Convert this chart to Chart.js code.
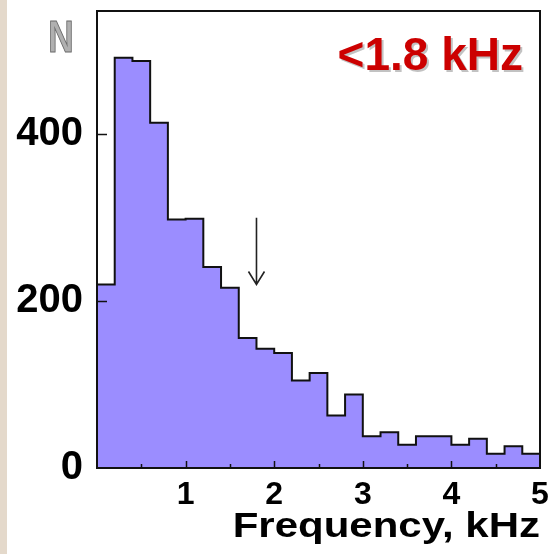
<!DOCTYPE html>
<html>
<head>
<meta charset="utf-8">
<script src="https://cdn.jsdelivr.net/npm/chart.js@4.4.1/dist/chart.umd.min.js"></script>
<style>
  html, body { margin: 0; padding: 0; background: #ffffff; }
  #wrap { width: 550px; height: 554px; position: relative; }
</style>
</head>
<body>
<div id="wrap"><canvas id="c" width="550" height="554"></canvas></div>
<script>
// ---- data ----
const binStart = 0.0;          // kHz
const binWidth = 0.2;          // kHz
const counts = [220, 492, 488, 414, 298, 299, 241, 216, 156, 143,
                138, 105, 114, 63, 88, 38, 43, 28, 38, 38,
                28, 35, 17, 26, 17];
const xTickLabels = ["1", "2", "3", "4", "5"];
const yTickValues = [0, 200, 400];
const arrowX = 1.8;            // kHz
const arrowTop = 300;          // N
const arrowTip = 220;          // N
const annotation = "<1.8 kHz";
const yLabel = "N";
const xTitle = "Frequency, kHz";

// bin edges -> stepped outline points
const stepPoints = counts.map((v, i) => ({ x: +(binStart + i * binWidth).toFixed(2), y: v }));
stepPoints.push({ x: +(binStart + counts.length * binWidth).toFixed(2), y: counts[counts.length - 1] });

const decor = {
  id: 'decor',
  beforeDraw(chart) {
    const ctx = chart.ctx;
    ctx.save();
    ctx.fillStyle = '#ffffff';
    ctx.fillRect(0, 0, chart.width, chart.height);
    ctx.fillStyle = '#e4d9cb';
    ctx.fillRect(0, 0, 7, chart.height);
    ctx.restore();
  },
  afterDatasetsDraw(chart) {
    const ctx = chart.ctx;
    const a = chart.chartArea;
    const xs = chart.scales.x, ys = chart.scales.y;
    ctx.save();
    // frame
    ctx.strokeStyle = '#111';
    ctx.lineWidth = 2;
    ctx.strokeRect(a.left, a.top, a.right - a.left, a.bottom - a.top);
    // x ticks (inward)
    ctx.lineWidth = 1.5;
    ctx.beginPath();
    for (let v = 0.5; v < 5; v += 0.5) {
      const px = Math.round(xs.getPixelForValue(v)) + 0.5;
      const len = (Math.abs(v - Math.round(v)) < 1e-6) ? 7 : 4;
      ctx.moveTo(px, a.bottom);
      ctx.lineTo(px, a.bottom - len);
    }
    // y ticks (inward)
    yTickValues.forEach(v => {
      if (v === 0) return;
      const py = Math.round(ys.getPixelForValue(v)) + 0.5;
      ctx.moveTo(a.left, py);
      ctx.lineTo(a.left + 10, py);
    });
    ctx.stroke();
    // arrow
    const ax = xs.getPixelForValue(arrowX);
    const ay0 = ys.getPixelForValue(arrowTop);
    const ay1 = ys.getPixelForValue(arrowTip);
    ctx.strokeStyle = '#222';
    ctx.lineWidth = 1.6;
    ctx.beginPath();
    ctx.moveTo(ax, ay0);
    ctx.lineTo(ax, ay1);
    ctx.moveTo(ax - 8, ay1 - 13);
    ctx.lineTo(ax, ay1);
    ctx.lineTo(ax + 8, ay1 - 13);
    ctx.stroke();
    // "N" label
    ctx.save();
    ctx.translate(61, 52);
    ctx.scale(0.8, 1);
    ctx.font = 'bold 44px "Liberation Sans", sans-serif';
    ctx.textAlign = 'center';
    ctx.textBaseline = 'alphabetic';
    ctx.fillStyle = '#b0b0b0';
    ctx.fillText(yLabel, 0, 0);
    ctx.strokeStyle = '#6a6a6a';
    ctx.lineWidth = 1;
    ctx.strokeText(yLabel, 0, 0);
    ctx.restore();
    // annotation
    ctx.font = 'bold 46px "Liberation Sans", Arial, sans-serif';
    ctx.textAlign = 'right';
    ctx.textBaseline = 'alphabetic';
    ctx.fillStyle = 'rgba(120,120,120,0.45)';
    ctx.fillText(annotation, 525, 72);
    ctx.fillStyle = '#cc0000';
    ctx.fillText(annotation, 523, 70);
    // x-axis title (horizontally stretched like the reference)
    ctx.save();
    ctx.translate(540, 537);
    ctx.scale(1.2, 1);
    ctx.font = 'bold 35px "Liberation Sans", Arial, sans-serif';
    ctx.textAlign = 'right';
    ctx.fillStyle = '#000';
    ctx.fillText(xTitle, 0, 0);
    ctx.restore();
    ctx.restore();
  }
};

new Chart(document.getElementById('c'), {
  type: 'line',
  data: {
    datasets: [{
      data: stepPoints,
      stepped: true,
      fill: 'origin',
      backgroundColor: '#9b8dff',
      borderColor: '#111',
      borderWidth: 2,
      pointRadius: 0,
      tension: 0
    }]
  },
  options: {
    responsive: false,
    animation: false,
    devicePixelRatio: 1,
    layout: { autoPadding: false, padding: { top: 11, right: 10, left: 0, bottom: 0 } },
    plugins: { legend: { display: false }, tooltip: { enabled: false } },
    scales: {
      x: {
        type: 'linear',
        min: 0, max: 5,
        grid: { display: false, drawTicks: false, tickLength: 0 },
        border: { display: false },
        afterFit(s) { s.height = 86; s.paddingLeft = 0; s.paddingRight = 0; },
        ticks: {
          stepSize: 1,
          autoSkip: false,
          maxRotation: 0,
          padding: 8,
          color: '#000',
          font: { family: '"Liberation Sans", Arial, sans-serif', size: 32, weight: 'bold' },
          callback: (v) => {
            const i = xTickLabels.indexOf(String(v));
            return i >= 0 ? xTickLabels[i] : '';
          }
        }
      },
      y: {
        type: 'linear',
        min: 0, max: 548,
        grid: { display: false, drawTicks: false, tickLength: 0 },
        border: { display: false },
        afterFit(s) { s.width = 97; s.paddingTop = 0; s.paddingBottom = 0; },
        ticks: {
          stepSize: 200,
          includeBounds: false,
          padding: 14,
          color: '#000',
          font: { family: '"Liberation Sans", Arial, sans-serif', size: 40, weight: 'bold' },
          callback: (v) => yTickValues.includes(v) ? String(v) : ''
        }
      }
    }
  },
  plugins: [decor]
});
</script>
</body>
</html>
